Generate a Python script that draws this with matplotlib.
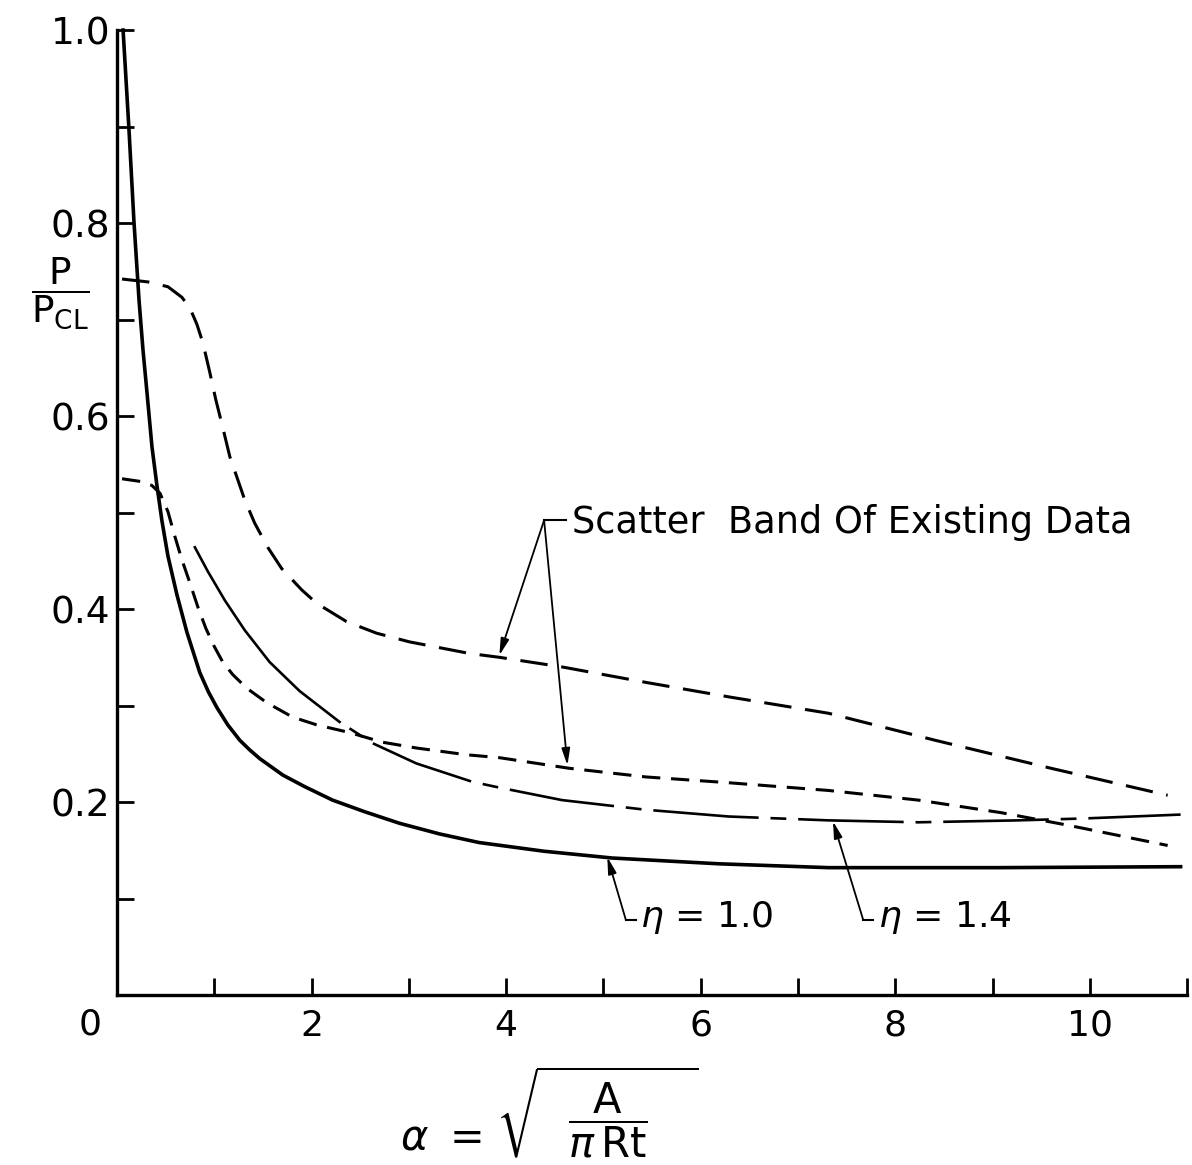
import numpy as np
import matplotlib
matplotlib.use("Agg")
from matplotlib import pyplot as plt

# curve readings (alpha, P/Pcl)
eta10_x = [0.062, 0.123, 0.174, 0.226, 0.267, 0.308, 0.359, 0.410, 0.462, 0.523, 0.615, 0.718, 0.851,
           0.94, 1.026, 1.138, 1.262, 1.364, 1.467, 1.703, 1.928, 2.215, 2.544, 2.903, 3.313, 3.723,
           4.390, 5.087, 6.185, 7.313, 9.056, 10.933]
eta10_y = [1.0, 0.896, 0.801, 0.720, 0.668, 0.624, 0.568, 0.528, 0.491, 0.455, 0.415, 0.376, 0.334,
           0.314, 0.298, 0.280, 0.264, 0.254, 0.245, 0.228, 0.216, 0.202, 0.190, 0.178, 0.167, 0.158,
           0.149, 0.142, 0.136, 0.132, 0.132, 0.133]

eta14_x = [0.800, 0.933, 1.108, 1.313, 1.569, 1.877, 2.287, 2.626, 3.077, 3.651, 3.928, 4.574, 5.436,
           6.287, 7.313, 8.236, 9.262, 9.949, 10.933]
eta14_y = [0.464, 0.439, 0.409, 0.378, 0.345, 0.315, 0.283, 0.261, 0.240, 0.221, 0.215, 0.202, 0.192,
           0.185, 0.181, 0.179, 0.181, 0.183, 0.187]

upper_x = [0.051, 0.318, 0.523, 0.667, 0.749, 0.821, 0.882, 0.954, 1.015, 1.087, 1.159, 1.313, 1.415,
           1.549, 1.692, 1.897, 2.051, 2.359, 2.667, 3.005, 3.313, 3.621, 3.928, 4.574, 5.436, 6.287,
           7.313, 8.410, 9.600, 10.800]
upper_y = [0.742, 0.739, 0.734, 0.723, 0.712, 0.695, 0.676, 0.645, 0.617, 0.588, 0.558, 0.513, 0.489,
           0.464, 0.442, 0.420, 0.406, 0.387, 0.375, 0.366, 0.360, 0.354, 0.350, 0.340, 0.324, 0.309,
           0.292, 0.264, 0.235, 0.207]

lower_x = [0.051, 0.256, 0.359, 0.441, 0.523, 0.595, 0.667, 0.749, 0.831, 0.913, 0.995, 1.087, 1.190,
           1.333, 1.538, 1.805, 2.051, 2.390, 2.728, 3.077, 3.590, 3.928, 4.646, 5.436, 6.287, 7.313,
           8.236, 9.087, 9.774, 10.800]
lower_y = [0.535, 0.532, 0.528, 0.520, 0.501, 0.475, 0.451, 0.427, 0.402, 0.380, 0.362, 0.345, 0.332,
           0.318, 0.303, 0.288, 0.280, 0.272, 0.262, 0.256, 0.249, 0.246, 0.235, 0.226, 0.220, 0.212,
           0.202, 0.189, 0.176, 0.155]

x_major = [2, 4, 6, 8, 10]
x_minor = [1, 3, 5, 7, 9, 11]
y_major = [0.2, 0.4, 0.6, 0.8, 1.0]
y_minor = [0.1, 0.3, 0.5, 0.7, 0.9]

plt.rcParams['font.family'] = ['DejaVu Sans']
plt.rcParams['mathtext.fontset'] = 'dejavusans'

fig = plt.figure(figsize=(11.92, 11.65), dpi=100)
ax = fig.add_axes([0.0982, 0.1459, 0.8977, 0.8283])

ax.plot(eta10_x, eta10_y, color='black', lw=2.6, clip_on=False)

# eta = 1.4: solid start, then long dash / short dash
e14x = np.array(eta14_x)
e14y = np.array(eta14_y)
ax.plot(e14x[e14x <= 2.29], e14y[e14x <= 2.29], color='black', lw=1.9)
ax.plot(e14x[e14x >= 2.28], e14y[e14x >= 2.28], color='black', lw=1.9,
        linestyle=(40, (40, 4.5, 6, 4.5)))

ax.plot(upper_x, upper_y, color='black', lw=2.2, linestyle=(0, (9, 4.5)), clip_on=False)
ax.plot(lower_x, lower_y, color='black', lw=2.2, linestyle=(0, (6, 3.5)), clip_on=False)

ax.set_xlim(0, 11)
ax.set_ylim(0, 1.0)
ax.spines['top'].set_visible(False)
ax.spines['right'].set_visible(False)
for s in ('left', 'bottom'):
    ax.spines[s].set_linewidth(2.4)

ax.set_xticks(x_major)
ax.set_xticks(x_minor, minor=True)
ax.set_yticks(y_major)
ax.set_yticks(y_minor, minor=True)
ax.set_yticklabels(['0.2', '0.4', '0.6', '0.8', '1.0'])
ax.tick_params(which='both', direction='in', length=12, width=2)
ax.tick_params(axis='x', which='major', labelsize=26, pad=10)
ax.tick_params(axis='y', which='major', labelsize=27, pad=5)
ax.text(-0.28, -0.031, '0', fontsize=26, ha='center', va='center')

# y label, sits in the tick label column
ax.text(-0.58, 0.727, r'$\dfrac{\mathsf{P}}{\mathsf{P_{CL}}}$', fontsize=27,
        ha='center', va='center')

# x label: alpha sits level with the denominator
fig.text(400 / 1192, (1165 - 1150) / 1165, r'$\alpha\ =$', fontsize=30,
         ha='left', va='baseline')
fig.text(496 / 1192, (1165 - 1112) / 1165,
         r'$\sqrt{\ \ \dfrac{\mathsf{A}}{\pi\,\mathsf{Rt}}\ \ \ }$',
         fontsize=30, ha='left', va='center')

arrow = dict(arrowstyle='-|>,head_length=1.0,head_width=0.25', color='black', lw=1.3,
             shrinkA=0, shrinkB=0)

# scatter band annotation
ax.plot([4.39, 4.62], [0.492, 0.492], color='black', lw=1.5)
ax.text(4.68, 0.49, 'Scatter  Band Of Existing Data', fontsize=26.5, ha='left', va='center')
ax.annotate('', xy=(3.93, 0.352), xytext=(4.39, 0.492), arrowprops=arrow)
ax.annotate('', xy=(4.63, 0.238), xytext=(4.39, 0.492), arrowprops=arrow)

# eta labels
ax.plot([5.23, 5.33], [0.078, 0.078], color='black', lw=1.5)
ax.annotate('', xy=(5.04, 0.143), xytext=(5.23, 0.078), arrowprops=arrow)
ax.text(5.38, 0.08, r'$\eta$ = 1.0', fontsize=26, ha='left', va='center')

ax.plot([7.67, 7.77], [0.078, 0.078], color='black', lw=1.5)
ax.annotate('', xy=(7.36, 0.180), xytext=(7.67, 0.078), arrowprops=arrow)
ax.text(7.82, 0.08, r'$\eta$ = 1.4', fontsize=26, ha='left', va='center')

fig.savefig('out.png', dpi=100)
